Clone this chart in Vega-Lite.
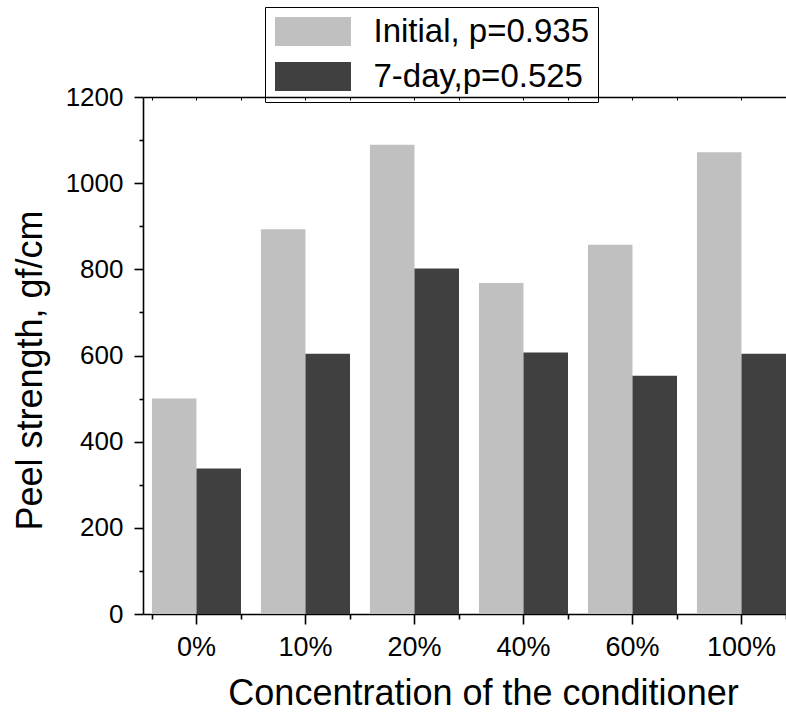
{
  "$schema": "https://vega.github.io/schema/vega-lite/v6.json",
  "width": 643,
  "height": 517,
  "autosize": "none",
  "padding": {"left": 143, "top": 97, "right": 0, "bottom": 99},
  "background": "white",
  "config": {
    "view": {"stroke": null},
    "font": "Liberation Sans",
    "axis": {
      "domainColor": "black",
      "tickColor": "black",
      "labelColor": "black",
      "titleColor": "black",
      "labelFont": "Liberation Sans",
      "titleFont": "Liberation Sans",
      "titleFontWeight": "normal",
      "grid": false,
      "domainWidth": 1.6,
      "tickWidth": 1.6
    },
    "legend": {"labelFont": "Liberation Sans", "labelColor": "black"}
  },
  "data": {
    "values": [
      {"concentration": "0%", "series": "Initial, p=0.935", "value": 500},
      {"concentration": "0%", "series": "7-day,p=0.525", "value": 338},
      {"concentration": "10%", "series": "Initial, p=0.935", "value": 893},
      {"concentration": "10%", "series": "7-day,p=0.525", "value": 604},
      {"concentration": "20%", "series": "Initial, p=0.935", "value": 1089},
      {"concentration": "20%", "series": "7-day,p=0.525", "value": 802},
      {"concentration": "40%", "series": "Initial, p=0.935", "value": 768},
      {"concentration": "40%", "series": "7-day,p=0.525", "value": 607},
      {"concentration": "60%", "series": "Initial, p=0.935", "value": 857},
      {"concentration": "60%", "series": "7-day,p=0.525", "value": 553},
      {"concentration": "100%", "series": "Initial, p=0.935", "value": 1072},
      {"concentration": "100%", "series": "7-day,p=0.525", "value": 604}
    ]
  },
  "encoding": {
    "xOffset": {
      "field": "series",
      "type": "nominal",
      "sort": ["Initial, p=0.935", "7-day,p=0.525"],
      "scale": {"paddingInner": 0, "paddingOuter": 0}
    },
    "y": {
      "field": "value",
      "type": "quantitative",
      "scale": {"domain": [0, 1200], "nice": false},
      "axis": {
        "title": "Peel strength, gf/cm",
        "titleFontSize": 36,
        "titlePadding": 16,
        "titleY": 273,
        "labelFontSize": 26,
        "labelPadding": 11,
        "format": "d",
        "values": [0, 100, 200, 300, 400, 500, 600, 700, 800, 900, 1000, 1100, 1200],
        "labelExpr": "datum.value % 200 === 0 ? datum.label : ''",
        "tickSize": {"condition": {"test": "datum.value % 200 === 0", "value": 9}, "value": 4}
      }
    }
  },
  "layer": [
    {
      "mark": {"type": "bar"},
      "encoding": {
        "x": {
          "field": "concentration",
          "type": "nominal",
          "sort": ["0%", "10%", "20%", "40%", "60%", "100%"],
          "scale": {"paddingInner": 0.183, "paddingOuter": 0.041, "align": 1},
          "axis": {
            "orient": "bottom",
            "title": "Concentration of the conditioner",
            "titleFontSize": 36,
            "titlePadding": 16,
            "titleX": 340,
            "labelAngle": 0,
            "labelFontSize": 27,
            "labelPadding": 10,
            "tickSize": 10
          }
        },
        "color": {
          "field": "series",
          "type": "nominal",
          "sort": ["Initial, p=0.935", "7-day,p=0.525"],
          "scale": {"domain": ["Initial, p=0.935", "7-day,p=0.525"], "range": ["#c0c0c0", "#404040"]},
          "legend": {
            "orient": "none",
            "legendX": 122,
            "legendY": -90,
            "title": null,
            "strokeColor": "black",
            "padding": 8,
            "symbolType": "M-2.62,-1H2.62V1H-2.62Z",
            "symbolSize": 841,
            "symbolStrokeWidth": 0,
            "symbolOpacity": 1,
            "symbolOffset": 23.5,
            "labelOffset": 44,
            "labelLimit": 500,
            "labelFontSize": 33,
            "rowPadding": 11
          }
        }
      }
    },
    {
      "mark": {"type": "bar", "opacity": 0},
      "encoding": {
        "x": {
          "field": "concentration",
          "type": "nominal",
          "sort": ["0%", "10%", "20%", "40%", "60%", "100%"],
          "scale": {"paddingInner": 0.183, "paddingOuter": 0.041, "align": 1},
          "axis": {"orient": "bottom", "title": null, "labels": false, "domain": false, "tickBand": "extent", "tickSize": 5}
        }
      }
    },
    {
      "mark": {"type": "bar", "opacity": 0},
      "encoding": {
        "x": {
          "field": "concentration",
          "type": "nominal",
          "sort": ["0%", "10%", "20%", "40%", "60%", "100%"],
          "scale": {"paddingInner": 0.183, "paddingOuter": 0.041, "align": 1},
          "axis": {"orient": "top", "title": null, "labels": false, "domain": true, "tickSize": -3, "tickWidth": 1}
        }
      }
    },
    {
      "mark": {"type": "bar", "opacity": 0},
      "encoding": {
        "x": {
          "field": "concentration",
          "type": "nominal",
          "sort": ["0%", "10%", "20%", "40%", "60%", "100%"],
          "scale": {"paddingInner": 0.183, "paddingOuter": 0.041, "align": 1},
          "axis": {"orient": "top", "title": null, "labels": false, "domain": false, "tickBand": "extent", "tickSize": -3, "tickWidth": 1}
        }
      }
    }
  ],
  "resolve": {"axis": {"x": "independent"}}
}
